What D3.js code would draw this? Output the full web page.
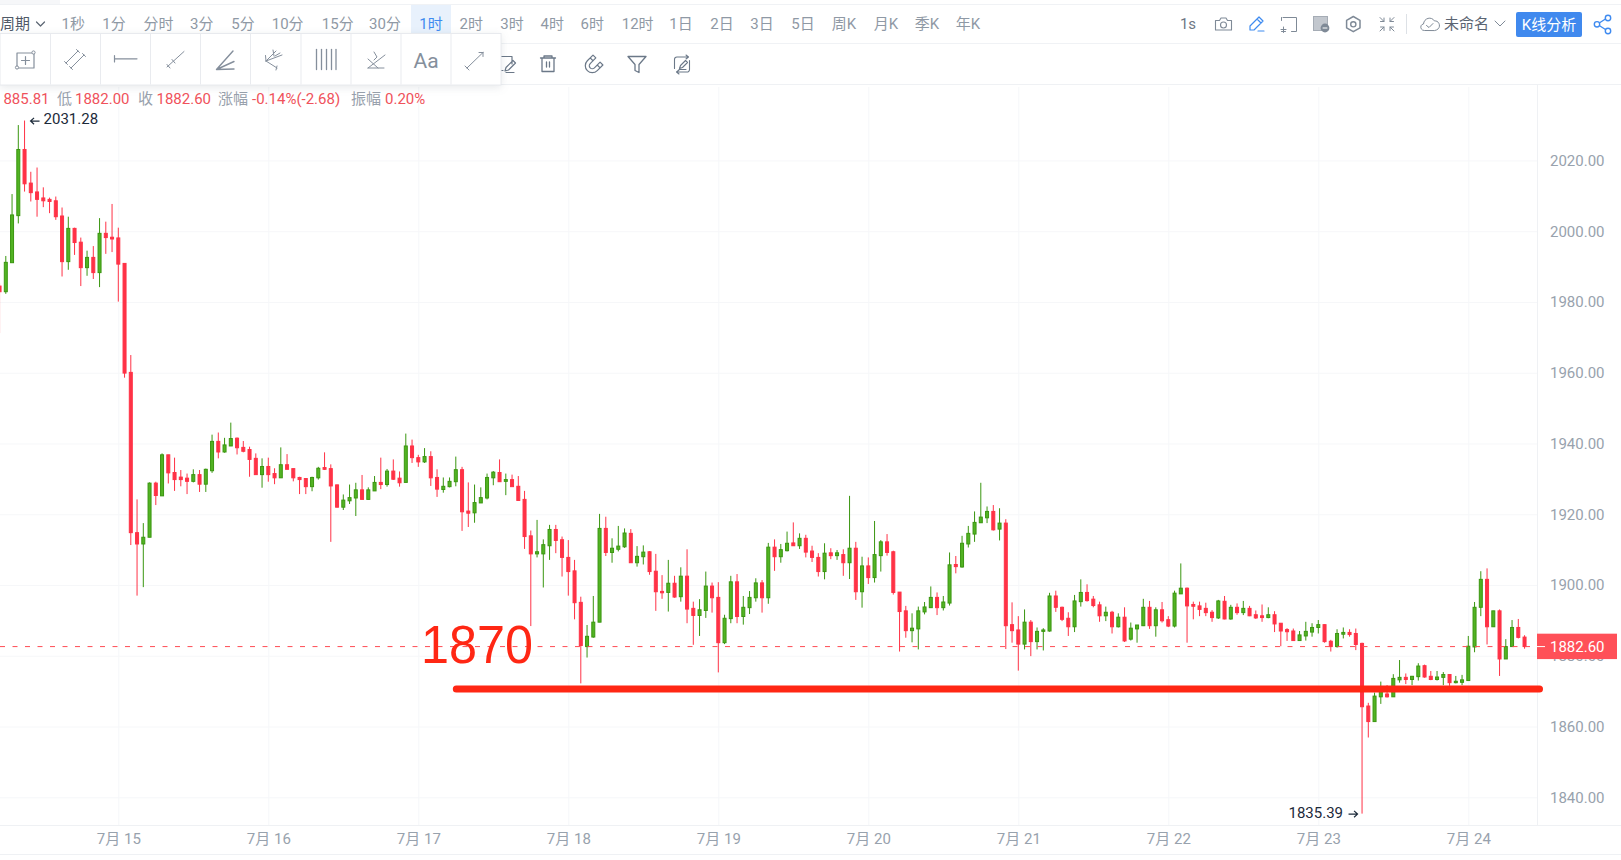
<!DOCTYPE html>
<html><head><meta charset="utf-8">
<script src="https://cdnjs.cloudflare.com/ajax/libs/d3/7.8.5/d3.min.js"></script>
<style>
html,body{margin:0;padding:0;background:#fff;overflow:hidden}
svg{display:block;font-family:Roboto,"Noto Sans CJK SC",sans-serif}
</style></head><body><svg id="c" width="1621" height="860"></svg>
<script>
// hour offset of each candle relative to 7月15 00:00
const hours = d3.range(-19, 226);
const direction = ("RGGGRRRRRRRGRRGRGRR"+"RRRRGGRGRRRRGRGGRGGRRRRG"+"RRGRRRRGGRRRGGGRGGRGRRGR"+"RGRRGGGRRGGGGRGRRRRGGGRR"+"RRRGGGRGGGRGGRRRGRGRRGGR"+"RGGRGGGRGRGGRGRRRGRGRGRG"+"RGGRRRRGGGGRGGRGGGGGRGRR"+"RGRGGGRRRGGRRRGRGRGGGRGR"+"RGGRRRRRGRGRGRRRGRRRRGGG"+"GRRGGRRRRGGRGGRGGRRGGRGG"+"GGGRGRGGRR").split("");
const highs = [1985.3,1993.0,2010.5,2030.0,2031.28,2016.8,2018.0,2012.4,2009.5,2009.8,2006.7,2004.1,2001.0,1998.2,1994.5,1995.8,2003.7,2002.7,2007.7,
2001.0,1990.9,1965.0,1924.2,1917.5,1929.0,1929.2,1937.2,1936.8,1936.0,1932.5,1931.5,1932.7,1932.5,1932.9,1942.5,1943.1,1941.6,1945.9,1941.7,1940.7,1939.1,1937.2,1935.8,
1936.0,1933.0,1938.9,1937.0,1932.9,1930.6,1930.2,1930.6,1933.4,1937.5,1934.1,1928.4,1925.6,1928.4,1928.9,1931.1,1927.6,1930.8,1936.0,1932.8,1935.5,1932.1,1942.8,1941.1,
1936.8,1938.7,1937.8,1932.7,1930.4,1930.4,1936.3,1933.4,1929.0,1928.4,1927.6,1931.5,1932.2,1935.5,1931.5,1931.2,1930.8,1926.6,1915.4,1918.4,1912.9,1917.0,1917.0,1913.7,
1912.7,1907.1,1896.7,1888.7,1896.9,1920.1,1919.3,1913.2,1916.7,1916.0,1915.8,1911.0,1911.2,1909.6,1908.8,1902.8,1907.1,1902.6,1905.0,1910.1,1895.3,1896.0,1903.8,1900.7,
1900.8,1891.6,1902.6,1903.1,1896.9,1898.3,1901.9,1901.4,1911.9,1912.9,1911.6,1915.1,1917.7,1914.6,1914.2,1911.1,1909.0,1911.8,1910.4,1909.9,1910.1,1925.2,1912.2,1908.0,
1907.8,1918.1,1912.7,1914.4,1909.7,1898.0,1894.1,1892.0,1893.9,1895.2,1899.6,1897.9,1896.9,1909.2,1908.2,1913.9,1916.7,1920.8,1928.9,1922.2,1922.6,1921.7,1918.6,1895.1,
1891.2,1893.1,1890.1,1888.0,1887.8,1897.8,1898.4,1893.9,1892.3,1897.2,1901.6,1900.2,1896.9,1895.3,1893.9,1892.7,1892.0,1893.7,1889.4,1888.7,1896.1,1895.5,1893.7,1895.2,
1891.2,1898.4,1906.1,1899.3,1895.3,1895.3,1895.0,1892.9,1895.8,1896.9,1894.4,1894.8,1895.5,1894.1,1892.8,1894.5,1893.7,1892.6,1889.2,1887.8,1887.7,1887.0,1889.6,1889.2,
1890.1,1888.9,1884.5,1887.5,1888.0,1887.5,1887.7,1883.7,1866.7,1869.6,1872.7,1871.7,1874.8,1878.8,1875.0,1874.3,1877.9,1877.5,1875.7,1875.7,1875.4,1874.8,1874.3,1874.6,
1885.6,1895.2,1903.9,1904.7,1892.7,1893.1,1884.7,1890.1,1890.4,1885.81];
const bodyTops = [1984.5,1991.2,2004.6,2023.1,2023.1,2013.6,2011.1,2009.4,2009.0,2008.6,2004.3,2000.8,2000.8,1996.9,1992.6,1992.6,1999.4,1999.4,1998.3,
1998.1,1990.9,1960.1,1914.8,1913.5,1928.8,1928.8,1936.8,1936.8,1931.8,1930.5,1930.2,1931.2,1931.2,1932.7,1940.6,1940.6,1939.6,1941.4,1941.5,1938.9,1938.3,1935.8,1933.5,
1933.5,1931.5,1934.0,1934.0,1932.9,1930.4,1930.1,1930.4,1933.0,1933.2,1932.9,1928.3,1924.0,1924.7,1926.9,1926.9,1926.9,1929.0,1929.0,1932.2,1932.2,1930.2,1939.3,1939.3,
1936.0,1936.3,1936.3,1930.4,1927.9,1929.3,1932.6,1932.6,1920.9,1923.3,1924.7,1930.4,1931.9,1931.8,1929.8,1929.8,1927.9,1924.2,1913.9,1909.4,1911.4,1915.7,1915.7,1912.8,
1907.8,1904.0,1895.1,1885.5,1889.5,1916.0,1916.0,1910.4,1911.0,1914.7,1914.6,1908.1,1909.3,1909.4,1903.9,1898.2,1900.5,1900.5,1902.5,1902.5,1893.4,1893.0,1899.7,1899.7,
1896.5,1890.6,1900.9,1900.9,1893.7,1896.5,1900.6,1900.6,1910.7,1910.7,1910.0,1911.8,1911.9,1913.2,1913.2,1909.6,1907.8,1909.0,1909.1,1909.1,1908.6,1910.4,1910.4,1905.4,
1905.4,1908.6,1912.2,1912.2,1909.4,1898.0,1892.7,1887.8,1892.7,1893.8,1896.5,1896.5,1895.2,1905.7,1905.8,1911.8,1914.6,1917.7,1919.2,1920.8,1920.8,1917.5,1917.5,1888.8,
1887.3,1889.5,1889.5,1886.9,1887.3,1896.9,1896.9,1893.7,1890.6,1895.5,1897.9,1897.9,1896.0,1894.4,1892.3,1892.3,1890.9,1890.9,1887.8,1888.7,1893.7,1893.7,1893.0,1893.0,
1890.2,1897.7,1899.1,1899.1,1894.5,1894.1,1893.4,1892.3,1895.5,1895.4,1893.7,1893.7,1893.4,1893.4,1891.6,1891.3,1891.6,1891.6,1889.2,1887.4,1887.0,1885.9,1886.9,1888.0,
1888.8,1888.8,1884.1,1886.3,1886.6,1886.6,1886.3,1883.5,1865.8,1868.6,1869.9,1869.2,1873.6,1873.9,1873.9,1874.2,1877.1,1877.2,1874.2,1874.0,1874.7,1874.7,1872.8,1873.2,
1882.7,1893.7,1901.6,1901.6,1892.7,1892.7,1882.6,1888.0,1888.0,1885.28];
const bodyBottoms = [1982.9,1982.9,1991.1,2004.4,2013.4,2010.9,2009.0,2008.6,2008.4,2004.1,1991.4,1991.4,1996.8,1989.7,1989.7,1988.3,1988.3,1998.2,1997.8,
1990.7,1959.9,1914.8,1911.6,1911.6,1913.5,1925.3,1925.2,1931.7,1929.8,1929.8,1929.3,1929.3,1928.5,1928.5,1932.3,1937.6,1937.6,1939.3,1938.8,1937.8,1935.5,1931.2,1931.2,
1931.2,1930.3,1930.3,1932.7,1930.3,1929.8,1927.8,1927.8,1930.3,1932.7,1928.0,1922.0,1922.0,1923.8,1924.6,1924.2,1924.2,1926.6,1928.4,1928.4,1929.9,1928.9,1929.0,1936.0,
1934.8,1934.8,1930.3,1927.1,1927.0,1927.8,1929.2,1920.7,1920.3,1920.4,1923.2,1924.6,1930.3,1929.2,1929.3,1927.8,1923.9,1913.7,1908.8,1908.8,1908.8,1911.1,1912.6,1907.8,
1903.8,1895.0,1882.9,1882.6,1885.3,1889.5,1909.2,1909.2,1910.1,1910.8,1906.3,1906.3,1908.0,1903.8,1898.1,1897.8,1897.9,1896.6,1896.7,1893.2,1891.4,1891.4,1892.8,1896.4,
1883.7,1883.7,1890.5,1891.1,1891.1,1893.6,1896.4,1896.4,1896.4,1908.0,1908.0,1909.7,1911.1,1911.1,1909.3,1907.8,1903.8,1903.8,1908.3,1908.3,1906.3,1906.3,1898.1,1898.1,
1902.1,1902.1,1908.3,1909.2,1897.9,1892.5,1887.1,1887.1,1887.6,1892.4,1893.6,1893.6,1893.6,1894.9,1905.2,1905.1,1911.6,1914.4,1917.6,1919.0,1915.6,1915.8,1888.5,1887.1,
1883.3,1883.3,1884.0,1884.0,1886.9,1887.0,1893.7,1890.3,1888.2,1888.2,1895.3,1895.6,1894.2,1891.3,1891.3,1888.2,1888.2,1884.2,1884.7,1887.6,1888.5,1888.5,1888.5,1889.9,
1888.4,1888.4,1897.5,1894.1,1894.0,1893.1,1892.2,1890.8,1890.7,1890.4,1890.4,1892.2,1892.2,1891.3,1890.7,1890.8,1890.8,1889.0,1887.0,1886.8,1884.3,1884.3,1885.6,1886.7,
1888.0,1884.0,1882.6,1882.6,1886.1,1886.0,1883.2,1865.6,1861.4,1861.4,1868.4,1868.4,1868.4,1873.2,1873.3,1873.3,1874.1,1874.0,1873.3,1873.3,1873.9,1872.4,1872.4,1872.5,
1873.0,1882.5,1893.7,1888.2,1888.2,1879.1,1879.1,1882.6,1885.2,1882.60];
const lows = [1971.2,1982.3,1991.1,2002.2,2011.2,2008.4,2004.1,2006.8,2005.1,2003.2,1987.2,1989.1,1993.3,1984.5,1987.4,1986.5,1984.2,1993.6,1994.1,
1980.1,1958.6,1911.3,1897.0,1899.4,1913.5,1922.6,1925.2,1928.7,1926.6,1927.9,1925.7,1929.0,1926.3,1926.3,1931.7,1935.8,1937.4,1939.3,1936.9,1937.5,1930.6,1931.2,1927.5,
1929.2,1928.5,1930.3,1932.7,1929.3,1925.7,1925.7,1926.5,1929.8,1932.5,1912.2,1921.9,1921.2,1922.9,1919.5,1924.2,1924.2,1926.6,1927.1,1927.8,1929.7,1927.8,1929.0,1934.5,
1933.4,1934.5,1928.0,1924.9,1926.1,1927.6,1927.9,1915.3,1916.4,1917.6,1923.2,1924.2,1928.2,1929.2,1925.4,1927.8,1923.9,1910.2,1888.4,1907.8,1899.3,1907.1,1909.0,1902.4,
1897.0,1890.3,1872.2,1879.5,1885.1,1889.5,1908.2,1906.3,1909.5,1910.5,1906.3,1905.2,1905.8,1902.9,1892.7,1896.1,1892.5,1896.4,1895.3,1889.2,1883.1,1885.6,1890.7,1892.2,
1875.3,1883.3,1889.2,1889.2,1888.8,1891.8,1895.3,1892.2,1894.7,1904.0,1906.3,1909.5,1911.1,1910.2,1907.8,1906.5,1902.4,1901.6,1907.3,1907.1,1902.6,1901.7,1895.8,1893.6,
1900.3,1900.7,1903.8,1908.3,1897.3,1881.2,1885.1,1883.8,1881.8,1891.7,1893.6,1891.5,1892.8,1894.2,1903.3,1904.9,1910.6,1912.2,1917.6,1917.5,1915.4,1912.6,1881.9,1883.7,
1875.8,1881.8,1879.9,1881.8,1881.5,1886.8,1892.4,1889.8,1885.6,1886.7,1893.9,1895.3,1893.7,1889.6,1889.8,1886.3,1888.0,1883.9,1884.3,1883.7,1888.4,1887.6,1885.4,1889.4,
1888.1,1888.0,1897.5,1883.7,1890.3,1891.2,1891.2,1889.6,1890.4,1890.3,1890.2,1891.6,1891.5,1891.2,1890.4,1889.6,1890.6,1886.7,1882.7,1884.2,1884.2,1884.3,1884.3,1885.4,
1886.3,1883.7,1881.2,1882.3,1884.9,1885.4,1881.6,1835.39,1856.9,1861.4,1866.4,1868.2,1868.4,1872.4,1872.0,1871.7,1873.0,1873.8,1873.1,1873.0,1871.7,1871.5,1872.2,1871.7,
1873.0,1881.0,1891.2,1883.2,1888.2,1874.3,1879.1,1882.6,1884.9,1882.00];

const priceTicks = [1840,1860,1880,1900,1920,1940,1960,1980,2000,2020];
const dayTicks = [0,24,48,72,96,120,144,168,192,216];
const dayLabels = ["7月 15","7月 16","7月 17","7月 18","7月 19","7月 20","7月 21","7月 22","7月 23","7月 24"];
const lastPrice = 1882.60, supportLevel = 1870.6, supportLabel = "1870";
const periods = [["1秒",73.3],["1分",114],["分时",158.5],["3分",201.7],["5分",243],["10分",287.7],["15分",337.8],["30分",385],["1时",431],["2时",471.3],["3时",512],["4时",552.3],["6时",592.3],["12时",637.7],["1日",681],["2日",722],["3日",762],["5日",803],["周K",844],["月K",886],["季K",927],["年K",968]];
const infoItems = [["885.81",3.4,1],["低",57,0],["1882.00",75,1],["收",138,0],["1882.60",156.5,1],["涨幅",218,0],["-0.14%(-2.68)",252,1],["振幅",351,0],["0.20%",385,1]];

[highs,bodyTops,bodyBottoms,lows,direction].forEach(a=>{ if(a.length!==hours.length) throw new Error("len "+a.length); });

const RED="#ff3246", GREEN="#52b323", GREEN_D="#3a9610", GRID="#f6f7f9", AXIS="#eff1f4", TICK="#98a2ad", FS="15px";
const plotR=1537, plotB=825;
const svg=d3.select("#c");
const x=d3.scaleLinear().domain([0,24]).range([118.3,268.3]);
const y=d3.scaleLinear().domain([1840,2020]).range([797.3,160.45]);

// chrome lines
const hl=(yy,c,x1=0,x2=1621)=>svg.append("line").attr("x1",x1).attr("x2",x2).attr("y1",yy).attr("y2",yy).attr("stroke",c);
svg.append("rect").attr("x",0).attr("y",0).attr("width",60).attr("height",4).attr("fill","#f6f7f9");
hl(4.5,"#f0f2f5"); hl(43.5,"#f0f2f5"); hl(84.5,"#eff1f4"); hl(854.5,"#eff1f4");

// grid
const gx=svg.append("g").attr("transform",`translate(0,${plotB})`)
  .call(d3.axisBottom(x).tickValues(dayTicks).tickSize(-(plotB-87)).tickFormat(""));
gx.select(".domain").remove(); gx.selectAll("line").attr("stroke",GRID);
const gy=svg.append("g").attr("transform",`translate(${plotR},0)`)
  .call(d3.axisLeft(y).tickValues(priceTicks).tickSize(plotR).tickFormat(""));
gy.select(".domain").remove(); gy.selectAll("line").attr("stroke",GRID);
hl(plotB+.5,AXIS); svg.append("line").attr("x1",plotR+.5).attr("x2",plotR+.5).attr("y1",85).attr("y2",plotB).attr("stroke",AXIS);

// axes labels
const ax=svg.append("g").attr("transform",`translate(0,${plotB})`)
  .call(d3.axisBottom(x).tickValues(dayTicks).tickSize(0).tickPadding(8.4).tickFormat((d,i)=>dayLabels[i]));
ax.select(".domain").remove();
ax.selectAll("text").attr("fill",TICK).style("font-size",FS).style("font-family",'Roboto,"Noto Sans CJK SC"');
const ay=svg.append("g").attr("transform",`translate(${plotR},0)`)
  .call(d3.axisRight(y).tickValues(priceTicks).tickSize(0).tickPadding(13).tickFormat(d3.format(".2f")));
ay.select(".domain").remove();
ay.selectAll("text").attr("fill",TICK).style("font-size",FS).style("font-family",'Roboto,"Noto Sans CJK SC"');

// candles
const candles=svg.append("g").selectAll("g").data(hours).join("g");
candles.append("line").attr("x1",d=>x(d)).attr("x2",d=>x(d))
  .attr("y1",(d,i)=>y(highs[i])).attr("y2",(d,i)=>y(lows[i]))
  .attr("stroke",(d,i)=>direction[i]==="R"?RED:GREEN_D).attr("stroke-width",1);
candles.append("rect").attr("x",d=>x(d)-1.5).attr("width",3)
  .attr("y",(d,i)=>y(bodyTops[i])).attr("height",(d,i)=>Math.max(y(bodyBottoms[i])-y(bodyTops[i]),1))
  .attr("fill",(d,i)=>direction[i]==="R"?RED:GREEN)
  .attr("stroke",(d,i)=>direction[i]==="R"?RED:GREEN_D).attr("stroke-width",1);

// last price line + tag
svg.append("line").attr("x1",0).attr("x2",plotR).attr("y1",y(lastPrice)).attr("y2",y(lastPrice))
  .attr("stroke","#ff4d55").attr("stroke-dasharray","5 7.5");
svg.append("rect").attr("x",plotR).attr("y",y(lastPrice)-12.9).attr("width",80).attr("height",25.4).attr("fill","#ff5058");
svg.append("line").attr("x1",plotR).attr("x2",plotR+8).attr("y1",y(lastPrice)).attr("y2",y(lastPrice)).attr("stroke","#fff");
svg.append("text").attr("x",plotR+13).attr("y",y(lastPrice)+5).attr("fill","#fff").style("font-size",FS).text(d3.format(".2f")(lastPrice));

// extreme annotations
const ink="#1c2a3a";
const hiIdx=highs.indexOf(d3.max(highs)), loIdx=lows.indexOf(d3.min(lows));
svg.append("text").attr("x",x(hours[hiIdx])+19).attr("y",y(highs[hiIdx])+3).attr("fill",ink).style("font-size",FS).text(d3.format(".2f")(highs[hiIdx]));
svg.append("path").attr("d",`M${x(hours[hiIdx])+15},${y(highs[hiIdx])+.5}h-9m3.5,-3.2l-3.5,3.2l3.5,3.2`).attr("fill","none").attr("stroke",ink).attr("stroke-width",1.2);
svg.append("text").attr("x",x(hours[loIdx])-19).attr("y",y(lows[loIdx])+4).attr("text-anchor","end").attr("fill",ink).style("font-size",FS).text(d3.format(".2f")(lows[loIdx]));
svg.append("path").attr("d",`M${x(hours[loIdx])-13.5},${y(lows[loIdx])+.5}h9m-3.5,-3.2l3.5,3.2l-3.5,3.2`).attr("fill","none").attr("stroke",ink).attr("stroke-width",1.2);

// hand-drawn support line and label
svg.append("line").attr("x1",456.3).attr("x2",1539.5).attr("y1",y(supportLevel)).attr("y2",y(supportLevel))
  .attr("stroke","#ff2714").attr("stroke-width",7).attr("stroke-linecap","round");
svg.append("text").attr("x",421).attr("y",662.5).attr("fill","#ff2714").attr("textLength",112).attr("lengthAdjust","spacingAndGlyphs")
  .style("font-family","'Liberation Sans',Arial,sans-serif").style("font-size","54px").text(supportLabel);

// toolbar row 1
const G="#8f99a5", IC="#7f8a97", BLUE="#3f8bf0";
svg.append("rect").attr("x",411).attr("y",5).attr("width",40).attr("height",38).attr("fill","#e8f1fc");
svg.append("text").attr("x",0).attr("y",29).attr("fill","#4f5a68").style("font-size",FS).text("周期");
svg.selectAll(".p").data(periods).join("text").attr("x",d=>d[1]).attr("y",29).attr("text-anchor","middle")
  .attr("fill",d=>d[0]==="1时"?BLUE:G).style("font-size",FS).text(d=>d[0]);
const ic=(d,c=IC,w=1.2,f="none")=>svg.append("path").attr("d",d).attr("fill",f).attr("stroke",c).attr("stroke-width",w).attr("stroke-linejoin","round").attr("stroke-linecap","round");
ic("M36.5,22l4,4l4,-4","#5b6572",1.2);
svg.append("text").attr("x",1188).attr("y",29).attr("text-anchor","middle").attr("fill","#6d7784").style("font-size",FS).text("1s");
// camera
ic("M1215.5,20.5h4l1.5,-2.5h5l1.5,2.5h4v9.5h-16z",IC,1.1); svg.append("circle").attr("cx",1223.5).attr("cy",25).attr("r",3).attr("fill","none").attr("stroke",IC).attr("stroke-width",1.1);
// pencil
ic("M1250,30v-4l9,-9l4,4l-9,9zM1257,19l4,4M1258,31h6",BLUE,1.2);
// frame plus
ic("M1283,17.5h13.5v14h-5M1281.5,17.5v3M1281.5,31.5h4M1283.5,27v5.5M1281,29.5h5",IC,1);
// image minus
svg.append("rect").attr("x",1313.5).attr("y",16.5).attr("width",14).attr("height",14).attr("fill","#c2c7ce").attr("stroke","#a5acb5");
svg.append("circle").attr("cx",1325).attr("cy",28).attr("r",4.4).attr("fill","#7f8a97");
ic("M1323,28h4","#fff",1);
// hexagon
ic("M1353.3,16.5l6.7,3.9v7.4l-6.7,3.9l-6.7,-3.9v-7.4z",IC,1.5); svg.append("circle").attr("cx",1353.3).attr("cy",24.3).attr("r",2.6).attr("fill","none").attr("stroke",IC).attr("stroke-width",1.4);
// shrink
ic("M1380,17.5l4,4M1380.5,21.5h3.5v-3.5M1394,17.5l-4,4M1393.5,21.5h-3.5v-3.5M1380,31l4,-4M1380.5,27h3.5v3.5M1394,31l-4,-4M1393.5,27h-3.5v3.5",IC,1);
svg.append("line").attr("x1",1406.5).attr("x2",1406.5).attr("y1",14).attr("y2",34).attr("stroke","#dde1e6");
// cloud
ic("M1424,30.5c-4,0,-4.5,-6,-.5,-6.5c.5,-6,8,-8,11,-3c5,-1,8,8,.5,9.5zM1426.5,25.5l2.5,2l4,-4",IC,1);
svg.append("text").attr("x",1444).attr("y",29).attr("fill","#5b6572").style("font-size",FS).text("未命名");
ic("M1495,21l5,5l5,-5",IC,1);
svg.append("rect").attr("x",1516).attr("y",12).attr("width",66).attr("height",25).attr("rx",2).attr("fill","#4089ee");
svg.append("text").attr("x",1549).attr("y",30).attr("text-anchor","middle").attr("fill","#fff").style("font-size",FS).text("K线分析");
// share
ic("M1600,22.5l7,-4.5M1600,26l7,4.5",BLUE,1.4);
[[1597,24.3],[1608,18],[1608,31]].forEach(p=>svg.append("circle").attr("cx",p[0]).attr("cy",p[1]).attr("r",2.7).attr("fill","#fff").attr("stroke",BLUE).attr("stroke-width",1.4));

// row 2 icons
const IC2="#6b7888";
ic("M498,56.5h14v5M498,56.5v14h5M512,60v4M505,71l1,-3.5l7,-7l2.5,2.5l-7,7zM506,72.5h8",IC2,1.2);
ic("M540.5,58h15M544,58v-2h8v2M542,58v13.5h12v-13.5M546.5,62v5M549.5,62v5",IC2,1.3);
ic("M-7,-7v8a7,7,0,0,0,14,0v-8h-4v8a3,3,0,0,1,-6,0v-8zM-7,-3h4M3,-3h4",IC2,1.2).attr("transform","translate(593,65) rotate(45)");
ic("M628,56.5h18l-7,8v8l-4,-2v-6z",IC2,1.3);
ic("M688,57h-11a2.5,2.5,0,0,0,-2.5,2.5v9M677,72h10a2.5,2.5,0,0,0,2.5,-2.5v-9M679.5,68.5l1,-3l5,-5l2,2l-5,5zM679,69.5h7M686,55l2.5,2l-2.5,2M679,70l-2.5,2l2.5,2",IC2,1.1);

// info row
svg.selectAll(".i").data(infoItems).join("text").attr("x",d=>d[1]).attr("y",103.5)
  .attr("fill",d=>d[2]?"#f0525b":"#98a1ac").style("font-size",FS).text(d=>d[0]);

// drawing palette
svg.append("rect").attr("x",0).attr("y",33.5).attr("width",501).attr("height",51.5).attr("fill","#fff").attr("stroke","#e8eaee")
  .style("filter","drop-shadow(0px 2px 4px rgba(60,70,90,.12))");
[50.5,100.5,150.5,200.5,250.5,301,351,401,451].forEach(v=>svg.append("line").attr("x1",v).attr("x2",v).attr("y1",34).attr("y2",84.5).attr("stroke","#e9ebef"));
const P="#858f9c";
ic("M17,53h17v15h-17zM25.5,56.5v8M21.5,60.5h8",P,1.2);
[[33.5,52.5],[17,67.5]].forEach(p=>svg.append("circle").attr("cx",p[0]).attr("cy",p[1]).attr("r",1.6).attr("fill","#fff").attr("stroke",P));
ic("M66,63l12,-12M71,68l13,-13M64.5,61.5l3,3M69.5,66.5l3,3M76.5,49.5l3,3M82.5,53.5l3,3",P,1);
ic("M114.5,55.5v6.5M114.5,58.8h22.5",P,1.2);
ic("M167,67l17,-15.5M172,59.5l3,3.5M167,64.5l3,3.5",P,1);
ic("M216.5,69.5l16.5,-18.5M216.5,69.5l17.5,-8M216.5,69.5l17.5,-.5",P,1.4);
ic("M266,61l10,-10M266,61l16,-6M266,61l11,7M265.5,55.5l.5,5.5M273,50l1,6M280,53l-5,3M276,70l1,-4",P,1);
[316.5,321.5,326.5,331.5,336].forEach(v=>ic(`M${v},49.5v20`,P,1.3));
ic("M368,68l17,-13M368,68h16M368,59l10,9M374,52l3,5l-3,3",P,1);
svg.append("text").attr("x",426).attr("y",67.5).attr("text-anchor","middle").attr("fill",P).style("font-size","21px").text("Aa");
ic("M467,68l16,-15.5M483,52.5h-4M483,52.5v4M465,66l4,4",P,1);
</script></body></html>
